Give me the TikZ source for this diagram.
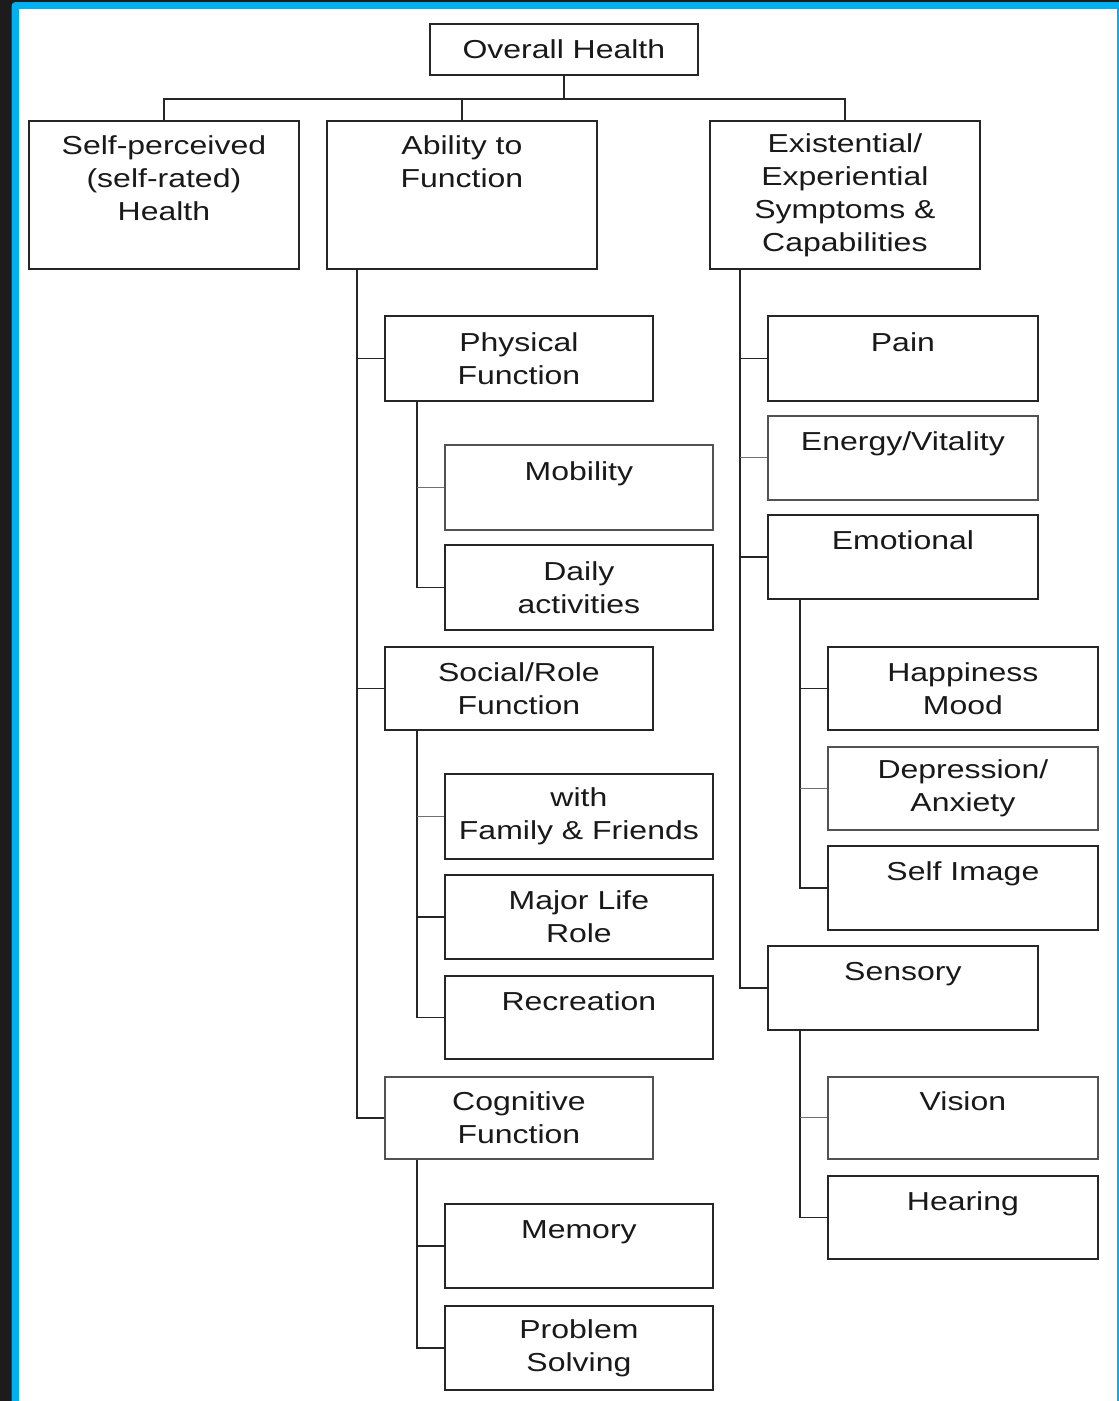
\documentclass[tikz,border=0pt]{standalone}
\usepackage{fontspec}
\setmainfont{Liberation Sans}[FakeStretch=1.23]
\usepackage{xcolor}
\usetikzlibrary{calc,positioning}

\definecolor{frameblue}{HTML}{00B0F0}
\definecolor{framedark}{HTML}{1C1C1C}
\definecolor{inkline}{HTML}{262626}
\definecolor{paleline}{HTML}{707070}

\begin{document}
\begin{tikzpicture}[
	%	style def
    x=1pt, y=-1pt,
    hbox/.style={draw=inkline, line width=1.8pt, fill=white, anchor=north west,
        inner sep=0pt, align=center, text=black!90,
        font=\fontsize{26}{33}\selectfont},
    widebox/.style={hbox, minimum width=270pt},
    narrowbox/.style={hbox, minimum width=268pt},
    palebox/.style={draw=paleline!60!inkline},
    link/.style={draw=inkline, line width=1.8pt},
    thin link/.style={draw=paleline, line width=1.1pt}
    ]
	\useasboundingbox (0,0) rectangle (1119,1401);

	% window frame
	\fill[framedark] (0,0) rectangle (1119,1401);
	\fill[frameblue] (11.5,1401) [rounded corners=4pt] -- (11.5,2) [sharp corners] -- (1119,2) -- (1119,1401) -- cycle;
	\fill[white] (19.3,9.3) rectangle (1116.7,1401);

	% top level
	\node[narrowbox, minimum height=51pt] (oh) at (429,23) {Overall Health};
	\node[widebox, minimum height=148pt] (sp) at (28,120) {Self-perceived\\(self-rated)\\Health\\\mbox{}};
	\node[widebox, minimum height=148pt] (af) at (326,120) {Ability to\\Function\\\mbox{}\\\mbox{}};
	\node[widebox, minimum height=148pt] (ex) at (709,120) {Existential/\\Experiential\\Symptoms \&\\Capabilities};

	\draw[link] (oh.south) -- ++(0,23) coordinate (tbar);
	\draw[link] (sp.north) |- (tbar) -| (ex.north);
	\draw[link] (af.north) -- (af.north |- tbar);

	% ability to function
	\node[narrowbox, minimum height=85pt] (pf) at (384,315) {Physical\\Function};
	\node[narrowbox, palebox, minimum height=85pt] (mob) at (444,444) {Mobility\\\mbox{}};
	\node[narrowbox, minimum height=85pt] (daily) at (444,544) {Daily\\activities};
	\node[narrowbox, minimum height=83pt] (srf) at (384,646) {Social/Role\\Function};
	\node[narrowbox, minimum height=85pt] (fam) at (444,773) {with\\Family \& Friends};
	\node[narrowbox, minimum height=84pt] (mlr) at (444,874) {Major Life\\Role};
	\node[narrowbox, minimum height=83pt] (rec) at (444,975) {Recreation\\\mbox{}};
	\node[narrowbox, palebox, minimum height=82pt] (cgf) at (384,1076) {Cognitive\\Function};
	\node[narrowbox, minimum height=84pt] (mem) at (444,1203) {Memory\\\mbox{}};
	\node[narrowbox, minimum height=84pt] (prob) at (444,1305) {Problem\\Solving};

	\path (af.south west) ++(31,0) coordinate (atrunk);
	\draw[link] (atrunk) |- (cgf.west);
	\draw[link] (pf.west) -- (pf.west -| atrunk);
	\draw[link] (srf.west) -- (srf.west -| atrunk);

	\path (pf.south west) ++(33,0) coordinate (ptrunk);
	\draw[link] (ptrunk) |- (daily.west);
	\draw[thin link] (mob.west) -- (mob.west -| ptrunk);

	\path (srf.south west) ++(33,0) coordinate (strunk);
	\draw[link] (strunk) |- (rec.west);
	\draw[thin link] (fam.west) -- (fam.west -| strunk);
	\draw[link] (mlr.west) -- (mlr.west -| strunk);

	\path (cgf.south west) ++(33,0) coordinate (ctrunk);
	\draw[link] (ctrunk) |- (prob.west);
	\draw[link] (mem.west) -- (mem.west -| ctrunk);

	% existential / experiential
	\node[widebox, minimum height=85pt] (pain) at (767,315) {Pain\\\mbox{}};
	\node[widebox, palebox, minimum height=84pt] (ener) at (767,415) {Energy/Vitality\\\mbox{}};
	\node[widebox, minimum height=84pt] (emo) at (767,514) {Emotional\\\mbox{}};
	\node[widebox, minimum height=83pt] (hap) at (827,646) {Happiness\\Mood};
	\node[widebox, palebox, minimum height=83pt] (dep) at (827,746) {Depression/\\Anxiety};
	\node[widebox, minimum height=84pt] (simg) at (827,845) {Self Image\\\mbox{}};
	\node[widebox, minimum height=84pt] (sens) at (767,945) {Sensory\\\mbox{}};
	\node[widebox, palebox, minimum height=82pt] (vis) at (827,1076) {Vision\\\mbox{}};
	\node[widebox, minimum height=83pt] (hear) at (827,1175) {Hearing\\\mbox{}};

	\path (ex.south west) ++(31,0) coordinate (etrunk);
	\draw[link] (etrunk) |- (sens.west);
	\draw[link] (pain.west) -- (pain.west -| etrunk);
	\draw[thin link] (ener.west) -- (ener.west -| etrunk);
	\draw[link] (emo.west) -- (emo.west -| etrunk);

	\path (emo.south west) ++(33,0) coordinate (mtrunk);
	\draw[link] (mtrunk) |- (simg.west);
	\draw[link] (hap.west) -- (hap.west -| mtrunk);
	\draw[thin link] (dep.west) -- (dep.west -| mtrunk);

	\path (sens.south west) ++(33,0) coordinate (vtrunk);
	\draw[link] (vtrunk) |- (hear.west);
	\draw[thin link] (vis.west) -- (vis.west -| vtrunk);

\end{tikzpicture}
\end{document}
